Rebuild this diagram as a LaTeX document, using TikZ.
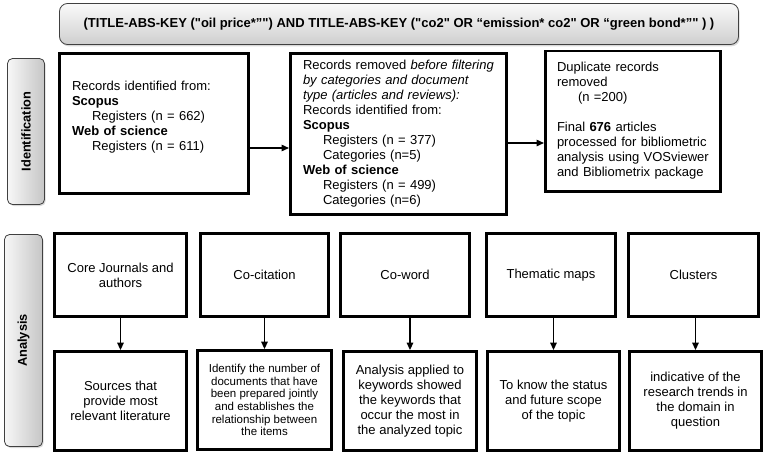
\documentclass[tikz,border=0pt]{standalone}
\usepackage{fontspec}
\setmainfont{Liberation Sans}[Ligatures=TeXOff]
\usepackage{tikz}
\usetikzlibrary{shapes,arrows.meta,positioning,shadows}

\begin{document}
\begin{tikzpicture}[x=1pt,y=-1pt,
	txt/.style={font=\fontsize{13}{15}\selectfont},
	recbox/.style={draw, line width=2.8pt, txt, align=left, inner sep=0pt},
	topicbox/.style={draw, line width=2.8pt, txt, align=center, minimum height=83pt},
	findbox/.style={draw, line width=2.8pt, txt, align=center, minimum height=99pt},
	phase/.style={draw=black!75, line width=0.8pt, rounded corners=5pt, left color=gray!6, right color=gray!45,
		drop shadow={opacity=0.3, shadow xshift=1.2pt, shadow yshift=-1.5pt},
		font=\bfseries\fontsize{12.8}{15}\selectfont},
	arr/.style={-{Triangle[length=7.5pt,width=6.5pt]}, line width=1.4pt}]
	\useasboundingbox (0,0) rectangle (768,456);

	\node[draw=black!75, line width=0.8pt, rounded corners=8pt, top color=gray!4, bottom color=gray!38,
		drop shadow={opacity=0.3, shadow xshift=1.2pt, shadow yshift=-1.8pt},
		minimum width=679pt, minimum height=41pt, font=\bfseries\fontsize{13}{15}\selectfont] (query) at (399,24)
		{(TITLE-ABS-KEY ("oil price*”") AND TITLE-ABS-KEY ("co2" OR “emission* co2" OR “green bond*”" ) )};

	\node[phase, minimum width=37pt, minimum height=146pt] (ident) at (26,131.5) {};
	\node[rotate=90, font=\bfseries\fontsize{12.8}{15}\selectfont] (identlbl) at (ident.center) {Identification};
	\node[phase, minimum width=38pt, minimum height=212pt] (anal) at (23.5,340.5) {};
	\node[rotate=90, font=\bfseries\fontsize{12.8}{15}\selectfont] (anallbl) at (anal.center) {Analysis};

	\node[recbox, minimum width=189.2pt, minimum height=140.2pt, text width=164pt] (found) at (154,123.5)
		{Records identified from:\\
		\textbf{Scopus}\\
		\hspace*{20pt}Registers (n = 662)\\
		\textbf{Web of science}\\
		\hspace*{20pt}Registers (n = 611)\\
		\mbox{}};
	\node[recbox, minimum width=216.2pt, minimum height=161.2pt, text width=191pt] (removed) at (398.5,134)
		{Records removed \textit{before filtering}\\
		\textit{by categories and document}\\
		\textit{type (articles and reviews):}\\
		Records identified from:\\
		\textbf{Scopus}\\
		\hspace*{20pt}Registers (n = 377)\\
		\hspace*{20pt}Categories (n=5)\\
		\textbf{Web of science}\\
		\hspace*{20pt}Registers (n = 499)\\
		\hspace*{20pt}Categories (n=6)};
	\node[recbox, minimum width=175.2pt, minimum height=140.2pt, text width=152pt] (final) at (633,121)
		{Duplicate records\\
		removed\\
		\hspace*{21pt}(n =200)\\[15pt]
		Final \textbf{676} articles\\
		processed for bibliometric\\
		analysis using VOSviewer\\
		and Bibliometrix package};

	\coordinate (a1) at (0,148);
	\coordinate (a2) at (0,143);
	\draw[arr] (found.east |- a1) -- (removed.west |- a1);
	\draw[arr] (removed.east |- a2) -- (final.west |- a2);

	\node[topicbox, minimum width=132pt] (core) at (120.5,275) {Core Journals and\\ authors};
	\node[topicbox, minimum width=128pt] (cocit) at (264.5,275) {Co-citation};
	\node[topicbox, minimum width=129pt] (coword) at (405,275) {Co-word};
	\node[topicbox, minimum width=129pt] (thema) at (551,275) {Thematic maps};
	\node[topicbox, minimum width=130pt] (clust) at (693.5,275) {Clusters};

	\node[findbox, minimum width=132pt] (sources) at (120.5,401) {Sources that\\ provide most\\ relevant literature};
	\node[findbox, minimum width=134pt, font=\fontsize{11.5}{12.7}\selectfont] (jointly) at (264.5,400)
		{Identify the number of\\ documents that have\\ been prepared jointly\\ and establishes the\\ relationship between\\ the items};
	\node[findbox, minimum width=133pt] (keywords) at (410,401)
		{Analysis applied to\\ keywords showed\\ the keywords that\\ occur the most in\\ the analyzed topic};
	\node[findbox, minimum width=132pt] (scope) at (553.5,401) {To know the status\\ and future scope\\ of the topic};
	\node[findbox, minimum width=132pt] (trends) at (695.5,401)
		{indicative of the\\ research trends in\\ the domain in\\ question};

	\draw[arr] (sources.north |- core.south) -- (sources.north);
	\draw[arr] (jointly.north |- cocit.south) -- (jointly.north);
	\draw[arr] (keywords.north |- coword.south) -- (keywords.north);
	\draw[arr] (scope.north |- thema.south) -- (scope.north);
	\draw[arr] (trends.north |- clust.south) -- (trends.north);
\end{tikzpicture}
\end{document}
